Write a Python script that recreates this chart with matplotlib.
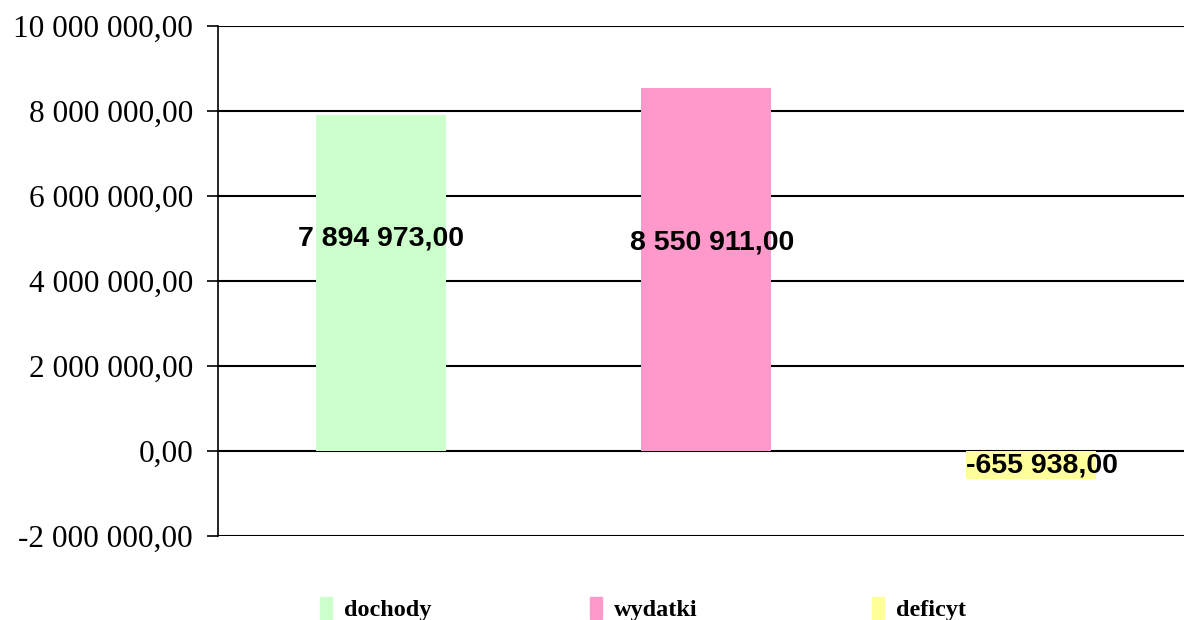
import matplotlib.pyplot as plt
from matplotlib.patches import Patch

categories = ["dochody", "wydatki", "deficyt"]
values = [7894973.00, 8550911.00, -655938.00]
colors = ["#CCFFCC", "#FF99CC", "#FFFF99"]
label_y = [5.0e6, 4.9e6, -0.33e6]
yticks = [-2e6, 0, 2e6, 4e6, 6e6, 8e6, 10e6]


def fmt(v):
    s = f"{abs(v):,.2f}".replace(",", " ").replace(".", ",")
    return ("-" if v < 0 else "") + s


fig = plt.figure(figsize=(11.84, 6.2), dpi=100)
ax = fig.add_axes([218 / 1184, 84 / 620, 975 / 1184, 510 / 620])

x = range(len(categories))
ax.bar(x, values, width=0.4, color=colors, zorder=2)

label_dx = [0.0, 0.02, 0.035]
for i, v in enumerate(values):
    ax.text(i + label_dx[i], label_y[i], fmt(v), ha="center", va="center",
            fontsize=20.5, fontweight="bold", family="Liberation Sans", zorder=3)

ax.set_xlim(-0.5, 2.5)
ax.set_ylim(-2e6, 10e6)
ax.set_yticks(yticks)
ax.set_yticklabels([fmt(t) for t in yticks], family="Liberation Serif", fontsize=22.5)
ax.tick_params(axis="y", length=8, width=1.2, pad=10, direction="out")
ax.set_xticks([])
ax.yaxis.grid(True, color="black", linewidth=1.5, zorder=1)
ax.set_axisbelow(True)
for s in ["top", "right", "bottom"]:
    ax.spines[s].set_visible(False)
ax.spines["left"].set_linewidth(1.2)

legend_x = [320 / 1184, 590 / 1184, 872 / 1184]
for i, c in enumerate(categories):
    fig.legend(handles=[Patch(color=colors[i], label=c)], loc="center left",
               bbox_to_anchor=(legend_x[i], 11 / 620), frameon=False,
               handlelength=0.5, handleheight=1.0, handletextpad=0.5,
               borderpad=0, borderaxespad=0,
               prop={"family": "Liberation Serif", "weight": "bold", "size": 17.5})

plt.savefig("out.png", dpi=100)
